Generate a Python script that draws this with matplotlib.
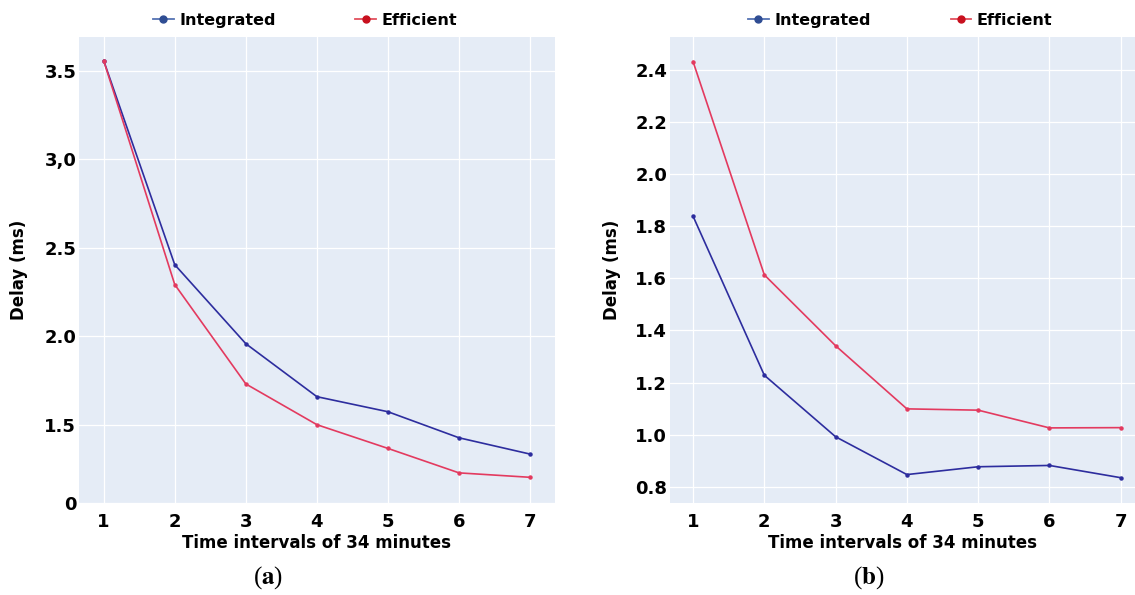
# Delay per time interval for the integrated and efficient schemes, two panels
from typing import List

import matplotlib.pyplot as plt
from matplotlib.lines import Line2D

plt.rcParams["font.family"] = ["DejaVu Sans"]
plt.rcParams["mathtext.fontset"] = "stix"

intervals = [1, 2, 3, 4, 5, 6, 7]

left_integrated = [3.557, 2.405, 1.959, 1.660, 1.575, 1.428, 1.336]
left_efficient = [3.557, 2.293, 1.732, 1.502, 1.368, 1.230, 1.205]
left_ytick_values = [1.06, 1.5, 2.0, 2.5, 3.0, 3.5]
left_ytick_labels = ["0", "1.5", "2.0", "2.5", "3,0", "3.5"]

right_integrated = [1.838, 1.228, 0.992, 0.847, 0.877, 0.882, 0.835]
right_efficient = [2.431, 1.613, 1.341, 1.099, 1.094, 1.026, 1.027]
right_ytick_values = [0.8, 1.0, 1.2, 1.4, 1.6, 1.8, 2.0, 2.2, 2.4]
right_ytick_labels = ["0.8", "1.0", "1.2", "1.4", "1.6", "1.8", "2.0", "2.2", "2.4"]

series_names = ["Integrated", "Efficient"]

BG = "#E5ECF6"
INTEGRATED_LINE = "#2d2d9e"
EFFICIENT_LINE = "#e33a5f"
TICK_SIZE = 13
LABEL_SIZE = 12
LEGEND_SIZE = 11.5


def draw_panel(
    ax: plt.Axes,
    integrated: List[float],
    efficient: List[float],
    yticks: List[float],
    ylabels: List[str],
    ylim: tuple,
    xlim: tuple,
    legend_x: float,
) -> None:
    """Desenha um painel no estilo plotly: fundo azulado, grade branca, sem bordas."""
    ax.set_facecolor(BG)
    ax.plot(intervals, integrated, color=INTEGRATED_LINE, linewidth=1.2,
            marker="o", markersize=2.2, zorder=3)
    ax.plot(intervals, efficient, color=EFFICIENT_LINE, linewidth=1.2,
            marker="o", markersize=2.2, zorder=3)

    ax.set_xlim(*xlim)
    ax.set_ylim(*ylim)
    ax.set_xticks(intervals)
    ax.set_xticklabels([str(v) for v in intervals], fontsize=TICK_SIZE, fontweight="bold")
    ax.set_yticks(yticks)
    ax.set_yticklabels(ylabels, fontsize=TICK_SIZE, fontweight="bold")
    ax.tick_params(axis="both", length=0)
    ax.tick_params(axis="x", pad=7)
    ax.tick_params(axis="y", pad=2)
    ax.grid(True, color="white", linewidth=0.9)
    ax.set_axisbelow(True)
    for spine in ax.spines.values():
        spine.set_visible(False)

    ax.set_xlabel("Time intervals of 34 minutes", fontsize=LABEL_SIZE,
                  fontweight="bold", va="center")
    ax.xaxis.set_label_coords(0.5, -0.086)
    ax.set_ylabel("Delay (ms)", fontsize=LABEL_SIZE, fontweight="bold", va="center")
    ax.yaxis.set_label_coords(-0.125, 0.5)

    handles = [
        Line2D([], [], color="#5573b3", linewidth=1.3, marker="o", markersize=5,
               markerfacecolor="#2f4d93", markeredgecolor="#2f4d93"),
        Line2D([], [], color="#e2505e", linewidth=1.3, marker="o", markersize=5,
               markerfacecolor="#c8101e", markeredgecolor="#c8101e"),
    ]
    ax.legend(handles, series_names, loc="center", bbox_to_anchor=(legend_x, 1.036),
              ncol=2, frameon=False, handlelength=1.3, handletextpad=0.35,
              columnspacing=5.0, prop={"size": LEGEND_SIZE, "weight": "bold"})


fig = plt.figure(figsize=(11.35, 5.95), dpi=100)
fig.patch.set_facecolor("white")

ax_left = fig.add_axes([79 / 1135, 92 / 595, 476 / 1135, 466 / 595])
ax_right = fig.add_axes([670 / 1135, 92 / 595, 465 / 1135, 466 / 595])

draw_panel(ax_left, left_integrated, left_efficient, left_ytick_values,
           left_ytick_labels, (1.06, 3.69), (0.653, 7.35), 0.475)
draw_panel(ax_right, right_integrated, right_efficient, right_ytick_values,
           right_ytick_labels, (0.738, 2.525), (0.677, 7.2), 0.495)

for label, x_px in (("a", 268), ("b", 869)):
    fig.text(x_px / 1135, 1 - 578 / 595, "($\\mathbf{" + label + "}$)",
             fontsize=18, family="Liberation Serif", ha="center", va="center")

fig.savefig("out.png", dpi=100, facecolor=fig.get_facecolor())
plt.close(fig)
